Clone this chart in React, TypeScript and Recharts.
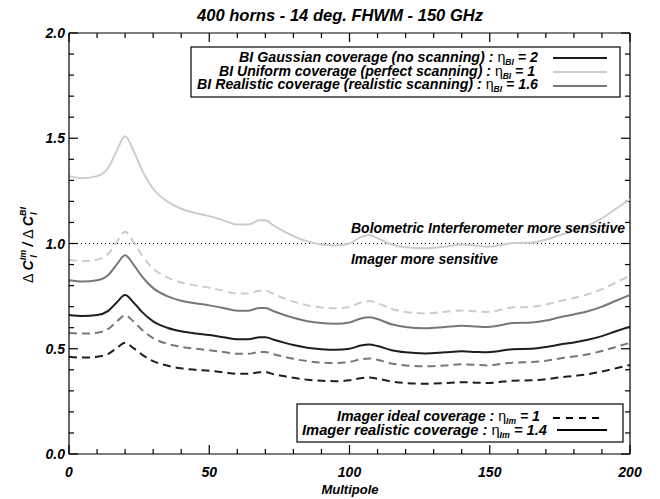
import React from 'react';
import { LineChart, Line, XAxis, YAxis, ReferenceLine } from 'recharts';

const multipole = [0, 5, 10, 14, 17, 20, 23, 26, 30, 35, 40, 45, 50, 55, 60, 64, 68, 70, 73, 77, 80, 85, 90, 95, 100, 104, 107, 110, 115, 120, 127, 134, 140, 145, 149, 153, 158, 165, 170, 175, 180, 185, 190, 195, 200];

// BI uniform coverage, imager realistic coverage (light solid)
const uniformReal = [1.32, 1.31, 1.32, 1.36, 1.44, 1.51, 1.44, 1.35, 1.26, 1.2, 1.165, 1.145, 1.13, 1.11, 1.09, 1.09, 1.11, 1.11, 1.085, 1.055, 1.035, 1.01, 0.995, 0.99, 1.0, 1.03, 1.04, 1.025, 0.995, 0.982, 0.978, 0.985, 0.995, 0.99, 0.985, 0.99, 1.002, 1.005, 1.018, 1.04, 1.06, 1.085, 1.12, 1.165, 1.21];
// BI uniform coverage, imager ideal coverage (light dashed)
const uniformIdeal = [0.923, 0.916, 0.923, 0.951, 1.007, 1.056, 1.007, 0.944, 0.881, 0.839, 0.815, 0.801, 0.79, 0.776, 0.762, 0.762, 0.776, 0.776, 0.759, 0.738, 0.724, 0.706, 0.696, 0.692, 0.699, 0.72, 0.727, 0.717, 0.689, 0.675, 0.668, 0.675, 0.682, 0.678, 0.675, 0.682, 0.696, 0.699, 0.71, 0.727, 0.741, 0.759, 0.783, 0.815, 0.846];
// BI realistic coverage, imager realistic (mid gray solid)
const realisticReal = [0.825, 0.819, 0.825, 0.85, 0.9, 0.944, 0.9, 0.844, 0.788, 0.75, 0.728, 0.716, 0.706, 0.694, 0.681, 0.681, 0.694, 0.694, 0.678, 0.659, 0.647, 0.631, 0.622, 0.619, 0.625, 0.644, 0.65, 0.641, 0.616, 0.603, 0.597, 0.603, 0.609, 0.606, 0.603, 0.609, 0.622, 0.625, 0.634, 0.65, 0.663, 0.678, 0.7, 0.728, 0.756];
// BI realistic coverage, imager ideal (mid gray dashed)
const realisticIdeal = [0.576, 0.572, 0.576, 0.594, 0.629, 0.659, 0.629, 0.59, 0.55, 0.524, 0.509, 0.5, 0.493, 0.485, 0.476, 0.476, 0.485, 0.485, 0.474, 0.461, 0.452, 0.441, 0.434, 0.432, 0.437, 0.45, 0.454, 0.448, 0.43, 0.421, 0.417, 0.421, 0.426, 0.424, 0.421, 0.426, 0.434, 0.437, 0.443, 0.454, 0.463, 0.474, 0.489, 0.509, 0.528];
// BI gaussian coverage, imager realistic (dark solid)
const gaussianReal = [0.66, 0.655, 0.66, 0.68, 0.72, 0.755, 0.72, 0.675, 0.63, 0.6, 0.583, 0.573, 0.565, 0.555, 0.545, 0.545, 0.555, 0.555, 0.543, 0.528, 0.518, 0.505, 0.498, 0.495, 0.5, 0.515, 0.52, 0.513, 0.493, 0.483, 0.478, 0.483, 0.488, 0.485, 0.483, 0.488, 0.498, 0.5, 0.508, 0.52, 0.53, 0.543, 0.56, 0.583, 0.605];
// BI gaussian coverage, imager ideal (dark dashed)
const gaussianIdeal = [0.462, 0.458, 0.462, 0.476, 0.503, 0.528, 0.503, 0.472, 0.441, 0.42, 0.407, 0.4, 0.395, 0.388, 0.381, 0.381, 0.388, 0.388, 0.379, 0.369, 0.362, 0.353, 0.348, 0.346, 0.35, 0.36, 0.364, 0.358, 0.344, 0.337, 0.334, 0.337, 0.341, 0.339, 0.337, 0.341, 0.348, 0.35, 0.355, 0.364, 0.371, 0.379, 0.392, 0.407, 0.423];

const xTicks = [0, 10, 20, 30, 40, 50, 60, 70, 80, 90, 100, 110, 120, 130, 140, 150, 160, 170, 180, 190, 200];
const yTicks = [0, 0.1, 0.2, 0.3, 0.4, 0.5, 0.6, 0.7, 0.8, 0.9, 1.0, 1.1, 1.2, 1.3, 1.4, 1.5, 1.6, 1.7, 1.8, 1.9, 2.0];

const title = '400 horns - 14 deg. FHWM - 150 GHz';
const xLabel = 'Multipole';
const noteUpper = 'Bolometric Interferometer more sensitive';
const noteLower = 'Imager more sensitive';

const data = multipole.map((l, i) => ({
  l,
  uR: uniformReal[i],
  uI: uniformIdeal[i],
  rR: realisticReal[i],
  rI: realisticIdeal[i],
  gR: gaussianReal[i],
  gI: gaussianIdeal[i],
}));

const FONT = '"Liberation Sans", Arial, Helvetica, sans-serif';
const DARK = '#1e1e1e';
const MID = '#777777';
const LIGHT = '#cccccc';
const DASH = '8 5';

// tick-mark lengths expressed in axis units (plot is 561px for 200 units, 421px for 2 units)
const X_MAJ = 9 * 200 / 561;
const X_MIN = 5 * 200 / 561;
const Y_MAJ = 9 * 2 / 421;
const Y_MIN = 5 * 2 / 421;

const isMajorX = (v: number) => v % 50 === 0;
const isMajorY = (v: number) => Math.abs(v * 2 - Math.round(v * 2)) < 1e-6;

const renderXLabel = (props: any) => {
  const x = Number(props.x);
  const y = Number(props.y);
  const v = props.payload.value;
  if (!isMajorX(v)) return <g key={`xl-${v}`} />;
  return (
    <text key={`xl-${v}`} x={x} y={y + 23} textAnchor="middle" fontFamily={FONT} fontSize={14} fontWeight="bold" fontStyle="italic" fill="#000" stroke="none">
      {v}
    </text>
  );
};

const renderYLabel = (props: any) => {
  const x = Number(props.x);
  const y = Number(props.y);
  const v = props.payload.value;
  if (!isMajorY(v)) return <g key={`yl-${v}`} />;
  return (
    <text key={`yl-${v}`} x={x - 4} y={y + 5} textAnchor="end" fontFamily={FONT} fontSize={14} fontWeight="bold" fontStyle="italic" fill="#000" stroke="none">
      {v.toFixed(1)}
    </text>
  );
};

const Eta = ({ sub }: { sub: string }) => (
  <>
    <tspan fontStyle="normal" fontWeight="normal">η</tspan>
    <tspan fontSize={9} dy={3}>{sub}</tspan>
  </>
);

export default function App() {
  const txt = { fontFamily: FONT, fontWeight: 'bold' as const, fontStyle: 'italic' as const, fill: '#000' };
  const tickStyle = { stroke: '#000', strokeWidth: 1.2, ifOverflow: 'visible' as const };
  return (
    <div style={{ position: 'absolute', left: 0, top: 0, width: 660, height: 499, background: '#fff' }}>
      <LineChart width={660} height={499} data={data} margin={{ top: 33, right: 30, bottom: 0, left: 0 }}>
        <XAxis dataKey="l" type="number" domain={[0, 200]} ticks={xTicks} interval={0} height={45}
          tickSize={0} tickMargin={0} tickLine={false} tick={renderXLabel} axisLine={{ stroke: '#000', strokeWidth: 1.2 }} />
        <YAxis type="number" domain={[0, 2]} ticks={yTicks} interval={0} width={69}
          tickSize={0} tickMargin={0} tickLine={false} tick={renderYLabel} axisLine={{ stroke: '#000', strokeWidth: 1.2 }} />
        <ReferenceLine y={2} stroke="#000" strokeWidth={1.2} ifOverflow="visible" />
        <ReferenceLine x={200} stroke="#000" strokeWidth={1.2} ifOverflow="visible" />
        {xTicks.map((v) => {
          const len = isMajorX(v) ? Y_MAJ : Y_MIN;
          return (
            <React.Fragment key={`xt-${v}`}>
              <ReferenceLine segment={[{ x: v, y: 0 }, { x: v, y: len }]} {...tickStyle} />
              <ReferenceLine segment={[{ x: v, y: 2 }, { x: v, y: 2 - len }]} {...tickStyle} />
            </React.Fragment>
          );
        })}
        {yTicks.map((v) => {
          const len = isMajorY(v) ? X_MAJ : X_MIN;
          return (
            <React.Fragment key={`yt-${v}`}>
              <ReferenceLine segment={[{ x: 0, y: v }, { x: len, y: v }]} {...tickStyle} />
              <ReferenceLine segment={[{ x: 200, y: v }, { x: 200 - len, y: v }]} {...tickStyle} />
            </React.Fragment>
          );
        })}
        <ReferenceLine y={1} stroke="#000" strokeWidth={1} strokeDasharray="1 3" ifOverflow="visible" />
        <Line type="monotone" dataKey="uR" stroke={LIGHT} strokeWidth={2} dot={false} isAnimationActive={false} />
        <Line type="monotone" dataKey="uI" stroke={LIGHT} strokeWidth={2} strokeDasharray={DASH} dot={false} isAnimationActive={false} />
        <Line type="monotone" dataKey="rR" stroke={MID} strokeWidth={2} dot={false} isAnimationActive={false} />
        <Line type="monotone" dataKey="rI" stroke={MID} strokeWidth={2} strokeDasharray={DASH} dot={false} isAnimationActive={false} />
        <Line type="monotone" dataKey="gR" stroke={DARK} strokeWidth={2} dot={false} isAnimationActive={false} />
        <Line type="monotone" dataKey="gI" stroke={DARK} strokeWidth={2} strokeDasharray={DASH} dot={false} isAnimationActive={false} />
      </LineChart>
      <svg width={660} height={499} style={{ position: 'absolute', left: 0, top: 0, pointerEvents: 'none' }}>
        <text x={197} y={21} textLength={286} lengthAdjust="spacingAndGlyphs" fontSize={17} {...txt}>{title}</text>
        <text x={350} y={494} textAnchor="middle" fontSize={13} {...txt}>{xLabel}</text>
        <text transform="translate(33,245) rotate(-90)" textAnchor="middle" fontSize={14} {...txt}>
          <tspan fontStyle="normal" fontWeight="normal">Δ </tspan>
          <tspan>C</tspan>
          <tspan fontSize={9} dy={-7}>Im</tspan>
          <tspan fontSize={9} dx={-8} dy={11}>l</tspan>
          <tspan dx={5} dy={-4}> / </tspan>
          <tspan fontStyle="normal" fontWeight="normal">Δ </tspan>
          <tspan>C</tspan>
          <tspan fontSize={9} dy={-7}>BI</tspan>
          <tspan fontSize={9} dx={-8} dy={11}>l</tspan>
        </text>

        <text x={351} y={233} textLength={274} lengthAdjust="spacingAndGlyphs" fontSize={15} {...txt}>{noteUpper}</text>
        <text x={351} y={264} textLength={147} lengthAdjust="spacingAndGlyphs" fontSize={15} {...txt}>{noteLower}</text>

        <rect x={191} y={47} width={429} height={50} fill="#fff" stroke="#000" strokeWidth={1.2} />
        <text x={239} y={62} textLength={299} lengthAdjust="spacingAndGlyphs" fontSize={15} {...txt}>
          BI Gaussian coverage (no scanning) : <Eta sub="BI" /><tspan dy={-3}> = 2</tspan>
        </text>
        <text x={219} y={76} textLength={316} lengthAdjust="spacingAndGlyphs" fontSize={15} {...txt}>
          BI Uniform coverage (perfect scanning) : <Eta sub="BI" /><tspan dy={-3}> = 1</tspan>
        </text>
        <text x={197} y={89} textLength={341} lengthAdjust="spacingAndGlyphs" fontSize={15} {...txt}>
          BI Realistic coverage (realistic scanning) : <Eta sub="BI" /><tspan dy={-3}> = 1.6</tspan>
        </text>
        <line x1={553} x2={607} y1={58} y2={58} stroke={DARK} strokeWidth={2} />
        <line x1={553} x2={607} y1={72} y2={72} stroke={LIGHT} strokeWidth={2} />
        <line x1={553} x2={607} y1={86} y2={86} stroke={MID} strokeWidth={2} />

        <rect x={297} y={404} width={326} height={38} fill="#fff" stroke="#000" strokeWidth={1.2} />
        <text x={337} y={421} textLength={203} lengthAdjust="spacingAndGlyphs" fontSize={15} {...txt}>
          Imager ideal coverage : <Eta sub="Im" /><tspan dy={-3}> = 1</tspan>
        </text>
        <text x={302} y={435} textLength={245} lengthAdjust="spacingAndGlyphs" fontSize={15} {...txt}>
          Imager realistic coverage : <Eta sub="Im" /><tspan dy={-3}> = 1.4</tspan>
        </text>
        <line x1={553} x2={600} y1={418} y2={418} stroke="#000" strokeWidth={2} strokeDasharray="7 6" />
        <line x1={557} x2={607} y1={430} y2={430} stroke="#000" strokeWidth={2} />
      </svg>
    </div>
  );
}
